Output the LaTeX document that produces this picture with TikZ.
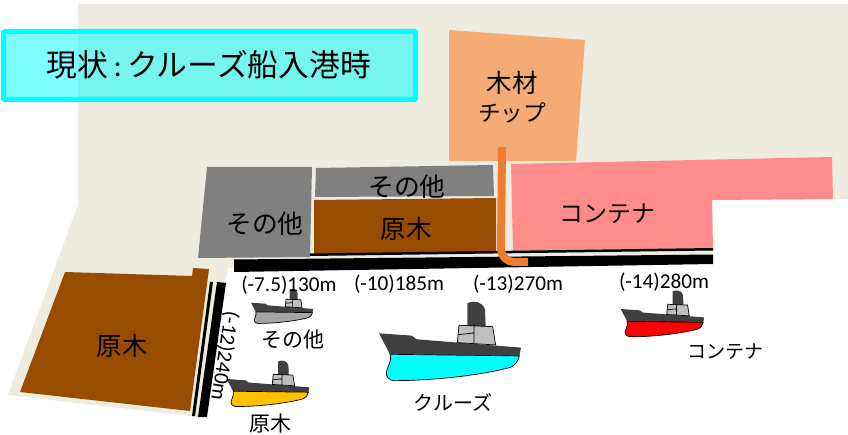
\documentclass[tikz,border=0pt]{standalone}
\usepackage{fontspec}
\setmainfont{Carlito}
\newfontfamily\jpfont{Noto Sans CJK JP}
\definecolor{landc}{HTML}{EEEBE0}
\definecolor{grayc}{HTML}{808080}
\definecolor{brownc}{HTML}{974C00}
\definecolor{pinkc}{HTML}{FF8B8B}
\definecolor{chipc}{HTML}{F4AB76}
\definecolor{pipec}{HTML}{ED7D31}
\definecolor{hullc}{HTML}{404040}
\definecolor{bridgec}{HTML}{BFBFBF}
\definecolor{shipyellow}{HTML}{FFC000}
\definecolor{shipgray}{HTML}{A6A6A6}
\definecolor{shipcyan}{HTML}{00FFFF}
\definecolor{shipred}{HTML}{FF0000}
\tikzset{
  jp/.style={font=\jpfont\fontsize{#1}{#1}\selectfont,inner sep=0pt,text=black},
  num/.style={font=\fontsize{21.2}{21.2}\selectfont,inner sep=0pt,text=black},
  pics/ship/.style={code={
    \fill[hullc] (0,0) -- (98,7) -- (113,18) -- (426,43) -- (421,68) -- (33,63) -- cycle;
    \draw[fill=#1,line width=.7pt] (33,63) -- (421,68) .. controls (416,85) and (410,95) .. (395,102)
      .. controls (310,125) and (170,142) .. (45,142)
      .. controls (30,142) and (20,128) .. (22,118)
      .. controls (23,100) and (40,88) .. (33,63) -- cycle;
    \fill[hullc] (265,20) -- (265,-90) .. controls (285,-100) and (310,-95) .. (318,-72) -- (320,-20) -- cycle;
    \draw[fill=bridgec,line width=.7pt] (240,-24) -- (341,-20) -- (350,35) -- (235,28) -- cycle;
    \draw[line width=.7pt] (285,-28) -- (285,30) (238,4) -- (285,-1);
  }}
}
\begin{document}
\begin{tikzpicture}[x=1pt,y=-1pt]
\useasboundingbox (0,0) rectangle (848,435);
% land
\fill[landc] (78,4) -- (848,4) -- (848,199) -- (712,200) -- (713,262) -- (228,268) -- (198,417) -- (8,395) -- (78,205) -- cycle;
% yards
\fill[brownc] (65,272) -- (192,276) -- (193,268) -- (209,269) -- (190,411) -- (20,392) -- cycle;
\fill[grayc] (207,167) -- (312,167) -- (310,257) -- (198,258) -- cycle;
\fill[grayc] (316,168) -- (493,165) -- (494,196) -- (315,197) -- cycle;
\fill[brownc] (314,200) -- (496,198) -- (496,252) -- (314,254.5) -- cycle;
\fill[pinkc] (511,164) -- (832,157) -- (833,199) -- (712,200) -- (713,248) -- (513,251) -- cycle;
\fill[chipc] (449,30) -- (585,40) -- (576,161) -- (449,161) -- cycle;
% quays
\fill[black] (234,259.5) -- (713,254.5) -- (713,264) -- (234,272) -- cycle;
\fill[black] (310,253.5) -- (713,248) -- (713,250.5) -- (310,256) -- cycle;
\fill[black] (217,282) -- (226,283) -- (207,417) -- (198,417) -- cycle;
\fill[black] (210,282) -- (213,282) -- (195,416) -- (192,416) -- cycle;
% pipe
\coordinate (pipeA) at (502,147);
\coordinate (pipeB) at (501,248);
\coordinate (pipeC) at (528,262);
\draw[pipec,line width=8pt] (pipeA) -- (pipeB) .. controls (501,257) and (508,262) .. (514,262) -- (pipeC);
% title
\node[draw=shipcyan,line width=5pt,fill=shipcyan,fill opacity=.5,draw opacity=1,text opacity=1,rounded corners=1pt,
  minimum width=412pt,minimum height=68pt,inner sep=0pt] (title) at (209.5,65.5) {};
\node[jp=30.8] (titletext) at (209,65) {現状{\rmfamily\,:\,}クルーズ船入港時};
% ships
\path pic[scale=.3333] at (379,333.3) {ship={shipcyan}};
\path pic[scale=.146] at (251,302.7) {ship={shipgray}};
\path pic[scale=.194] at (226.7,379) {ship={shipyellow}};
\path pic[scale=.196] at (620.7,309) {ship={shipred}};
% labels
\node[jp=25.4] (l1) at (512,83) {木材};
\node[jp=22.6] (l2) at (512,113) {チップ};
\node[jp=25.8] (l3) at (265,224) {その他};
\node[jp=25.8] (l4) at (407,187) {その他};
\node[jp=25.4] (l5) at (406,229) {原木};
\node[jp=24] (l6) at (607,214) {コンテナ};
\node[jp=25.4] (l7) at (122,346) {原木};
\node[jp=21] (s1) at (293,340) {その他};
\node[jp=21] (s2) at (270,424) {原木};
\node[jp=20] (s3) at (453,402) {クルーズ};
\node[jp=19] (s4) at (725,352) {コンテナ};
\node[num] (n1) at (289,285) {(-7.5)130m};
\node[num] (n2) at (399,284) {(-10)185m};
\node[num] (n3) at (518,284) {(-13)270m};
\node[num] (n4) at (664,282) {(-14)280m};
\node[num,rotate=-99] (n5) at (224.5,356) {(-12)240m};
\end{tikzpicture}
\end{document}
